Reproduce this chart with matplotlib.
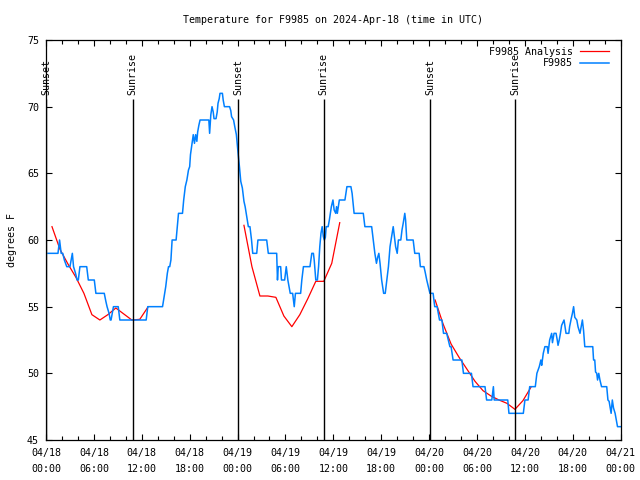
#!/usr/bin/env python3
"""Temperature chart for F9985, 2024-Apr-18, gnuplot look."""

from datetime import datetime, timedelta

import numpy as np
import matplotlib
matplotlib.use("Agg")
import matplotlib.pyplot as plt
from matplotlib.ticker import MultipleLocator

START = datetime(2024, 4, 18)

# observed temperature (hours after 04/18 00:00 UTC, degrees F)
obs_hours = [
    0.25, 1.5, 1.7, 1.9, 2.1, 2.3, 2.6, 3.0, 3.3, 3.45, 3.7, 3.9, 4.05, 4.25,
    5.1, 5.3, 6.05, 6.25, 7.3, 7.5, 7.65, 7.9, 8.05, 8.15, 8.45, 9.05, 9.25,
    12.55, 12.75, 14.6, 14.8, 15.0, 15.2, 15.35, 15.5, 15.65, 15.8, 16.3,
    16.45, 16.6, 17.1, 17.25, 17.45, 17.65, 17.85, 18.0, 18.1, 18.3, 18.45,
    18.6, 18.75, 18.9, 19.0, 19.15, 19.3, 20.4, 20.5, 20.65, 20.8, 20.95,
    21.05, 21.3, 21.45, 21.55, 21.7, 21.8, 22.1, 22.2, 22.35, 23.0, 23.15,
    23.25, 23.5, 23.65, 23.85, 24.05, 24.25, 24.4, 24.6, 24.8, 24.95, 25.15,
    25.35, 25.55, 25.75, 25.9, 26.4, 26.55, 27.65, 27.85, 28.9, 29.0, 29.1,
    29.4, 29.5, 29.9, 30.1, 30.3, 30.6, 30.9, 31.1, 31.25, 31.9, 32.05,
    32.25, 33.07, 33.3, 33.5, 33.6, 33.8, 34.0, 34.15, 34.3, 34.45, 34.6,
    34.75, 34.87, 35.0, 35.1, 35.35, 35.5, 35.75, 35.95, 36.1, 36.3, 36.4,
    36.5, 36.75, 37.45, 37.7, 38.2, 38.35, 38.6, 39.75, 39.95, 40.8, 40.95,
    41.05, 41.2, 41.4, 41.55, 41.7, 41.85, 42.05, 42.3, 42.5, 42.7, 42.9,
    43.1, 43.3, 43.5, 43.65, 43.8, 44.0, 44.15, 44.45, 44.6, 44.75, 44.95,
    45.05, 45.2, 46.0, 46.2, 46.75, 46.9, 47.35, 47.5, 47.7, 47.9, 48.1,
    48.5, 48.7, 49.0, 49.3, 49.6, 49.8, 50.2, 50.6, 50.75, 51.0, 52.1, 52.3,
    53.3, 53.5, 55.0, 55.2, 55.85, 56.05, 56.15, 57.85, 58.0, 59.8, 60.0,
    60.4, 60.6, 61.3, 61.5, 61.8, 62.0, 62.1, 62.3, 62.5, 62.8, 62.9, 63.1,
    63.35, 63.45, 63.65, 63.9, 64.05, 64.15, 64.3, 64.45, 64.6, 64.9, 65.0,
    65.15, 65.5, 65.6, 65.8, 65.95, 66.1, 66.25, 66.5, 66.65, 66.9, 67.05,
    67.2, 67.35, 67.5, 68.5, 68.6, 68.75, 68.85, 69.0, 69.1, 69.25, 69.4,
    69.6, 69.8, 70.25, 70.4, 70.55, 70.8, 70.95, 71.1, 71.3, 71.6, 72.0,
]
obs_temps = [
    59, 59, 60, 59, 59, 58.5, 58, 58, 59, 58, 57.5, 57, 57, 58,
    58, 57, 57, 56, 56, 55.4, 55, 54.5, 54, 54, 55, 55, 54,
    54, 55, 55, 55.75, 56.5, 57.5, 58, 58, 58.5, 60, 60,
    61, 62, 62, 63, 64, 64.5, 65.25, 65.5, 66.4, 67.25, 67.9,
    67.25, 67.9, 67.4, 68.1, 68.6, 69, 69, 68, 69.4, 70, 69.6,
    69.1, 69.1, 69.6, 70.25, 70.6, 71, 71, 70.5, 70, 70, 69.7,
    69.25, 69, 68.5, 67.9, 66.6, 65.4, 64.4, 63.9, 62.9, 62.5, 61.75,
    61, 61, 60, 59, 59, 60, 60, 59, 59, 57, 58,
    58, 57, 57, 58, 57, 56, 56, 55, 56, 56, 57,
    58, 58, 59, 59, 58.5, 57, 57, 58, 59.5, 60.5, 61,
    60.25, 60, 60.2, 61, 61, 61.5, 62.5, 63, 62.25, 62, 62.5,
    62, 63, 63, 64, 64, 63.5, 62, 62, 61, 61, 60.25,
    59.7, 59, 58.25, 58.7, 59, 58.25, 57, 56, 56, 57, 58,
    59.5, 60.25, 61, 60.25, 59.5, 59, 60, 60, 60.75, 61.25, 62,
    61.5, 60, 60, 59, 59, 58, 58, 57.6, 57, 56.5, 56,
    56, 55, 55, 54, 54, 53, 53, 52, 52, 51, 51, 50,
    50, 49, 49, 48, 48, 49, 48, 48, 47, 47, 48,
    48, 49, 49, 50, 50.5, 51, 50.6, 51.5, 52, 52, 51.5, 52.5,
    53, 52.3, 53, 53, 52.5, 52.1, 52.5, 53, 53.6, 54, 53.6,
    53, 53, 53.5, 54.1, 54.5, 55, 54.2, 54, 53.5, 53, 53.5,
    54, 53.2, 52, 52, 51, 51, 50.1, 50, 49.5, 50, 49.5,
    49, 49, 49, 48, 47.9, 47, 48, 47.4, 47, 46, 46,
]

# hourly analysis, nan marks the gaps between runs
analysis_hours = [
    0.75, 1.75, 2.75, 3.75, 4.75, 5.75, 6.75, 7.75, 8.75, 9.75, 10.75, 11.75, 12.75,
    np.nan,
    24.8, 25.8, 26.8, 27.8, 28.8, 29.8, 30.8, 31.8, 32.8, 33.8, 34.8, 35.8, 36.8,
    np.nan,
    48.75, 49.75, 50.75, 51.75, 52.75, 53.75, 54.75, 55.75, 56.75, 57.75, 58.75,
    59.75, 60.75,
]
analysis_temps = [
    61.0, 59.3, 58.2, 57.2, 56.0, 54.4, 54.0, 54.4, 54.9, 54.45, 54.0, 54.05, 54.95,
    np.nan,
    61.1, 58.0, 55.8, 55.8, 55.7, 54.3, 53.5, 54.4, 55.6, 56.9, 56.9, 58.25, 61.3,
    np.nan,
    55.5, 53.7, 52.2, 51.2, 50.3, 49.4, 48.7, 48.3, 48.0, 47.75, 47.3,
    47.95, 48.95,
]

sunset_hours = [0.05, 24.07, 48.1]
sunrise_hours = [10.85, 34.77, 58.77]

FONT = "DejaVu Sans Mono"
FS = 7.2
plt.rcParams["font.family"] = FONT
plt.rcParams["font.size"] = FS

fig = plt.figure(figsize=(6.4, 4.8), dpi=100)
ax = fig.add_axes([46 / 640, 40 / 480, 574.7 / 640, 400 / 480])

ax.plot(analysis_hours, analysis_temps, color="#ff0000", lw=0.9,
        label="F9985 Analysis")
ax.plot(obs_hours, obs_temps, color="#0080ff", lw=1.1, label="F9985")

# sunrise / sunset markers
events = [(h, "Sunset") for h in sunset_hours] + [(h, "Sunrise") for h in sunrise_hours]
for h, name in events:
    ax.vlines(h, 45, 70.6, color="black", lw=1.0)
    ax.text(h, 70.9, name, rotation=90, ha="center", va="bottom", fontsize=FS)

ax.set_xlim(0, 72)
ax.set_ylim(45, 75)

major = list(range(0, 73, 6))
ax.set_xticks(major)
ax.set_xticklabels([(START + timedelta(hours=h)).strftime("%m/%d\n%H:%M") for h in major],
                   linespacing=1.65)
ax.xaxis.set_minor_locator(MultipleLocator(2))
ax.set_yticks(range(45, 76, 5))

ax.tick_params(which="both", direction="in", top=True, right=True, labelsize=FS, width=0.8)
ax.tick_params(which="major", length=4.5)
ax.tick_params(which="minor", length=3)
ax.tick_params(axis="y", pad=5)
ax.tick_params(axis="x", pad=6)
for s in ax.spines.values():
    s.set_linewidth(0.9)

ax.set_ylabel("degrees F", fontsize=FS, labelpad=7.5)
ax.set_title("Temperature for F9985 on 2024-Apr-18 (time in UTC)", fontsize=FS, pad=12)

ax.legend(loc="upper right", bbox_to_anchor=(0.9826, 0.9875), frameon=False,
          markerfirst=False, fontsize=FS, handlelength=2.9, handletextpad=0.7,
          labelspacing=0.15, borderpad=0.2, borderaxespad=0.0)

fig.savefig("out.png", dpi=100)
